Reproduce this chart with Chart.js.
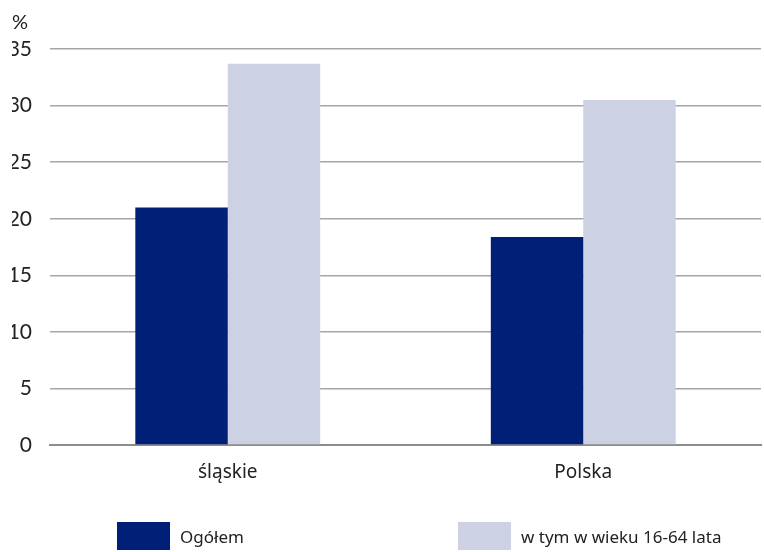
<!DOCTYPE html>
<html>
<head>
<meta charset="utf-8">
<script src="https://cdn.jsdelivr.net/npm/chart.js@4"></script>
<style>
  html, body { margin: 0; background: #fff; overflow: hidden; }
  #wrap { position: relative; width: 764px; height: 552px; }
  #chart { display: block; }
  .leg { position: absolute; top: 522px; display: flex; align-items: center; font-family: "Noto Sans", sans-serif; font-size: 17px; color: #222; }
  .leg span.box { display: inline-block; width: 53px; height: 28px; margin-right: 10px; }
</style>
</head>
<body>
<div id="wrap">
  <canvas id="chart" width="764" height="552"></canvas>
  <div id="legend"></div>
</div>
<script>
// data
const categories = ['śląskie', 'Polska'];
const seriesNames = ['Ogółem', 'w tym w wieku 16-64 lata'];
const totalValues = [21.0, 18.4];
const ageValues = [33.7, 30.5];
const seriesColors = ['#001f77', '#ccd2e4'];

let ctx = document.getElementById('chart').getContext('2d');
let chart = new Chart(ctx, {
    type: 'bar',
    data: {
        labels: categories,
        datasets: [
            {
                label: seriesNames[0],
                data: totalValues,
                backgroundColor: seriesColors[0],
            },
            {
                label: seriesNames[1],
                data: ageValues,
                backgroundColor: seriesColors[1],
            },
        ],
    },
    options: {
        responsive: false,
        animation: false,
        layout: {
            padding: { left: 12, right: 3, top: 11, bottom: 60 },
        },
        datasets: {
            bar: {
                categoryPercentage: 0.52,
                barPercentage: 1.0,
            },
        },
        plugins: {
            legend: { display: false },
            tooltip: { enabled: false },
            title: {
                display: true,
                text: '%',
                align: 'start',
                color: '#222',
                font: { family: 'Lato', size: 20, weight: 'normal' },
                padding: { top: 0, bottom: 14 },
            },
        },
        scales: {
            x: {
                grid: { display: false },
                border: { display: true, color: '#8c8c8c', width: 2 },
                ticks: {
                    color: '#222',
                    padding: 8,
                    font: { family: 'Noto Sans', size: 19 },
                },
            },
            y: {
                min: 0,
                max: 35,
                border: { display: false },
                afterFit: (scale) => { scale.width = 38; },
                grid: {
                    drawTicks: false,
                    color: (c) => (c.index === 0 ? '#8c8c8c' : '#a6a6a6'),
                    lineWidth: (c) => (c.index === 0 ? 2 : 1.5),
                },
                ticks: {
                    stepSize: 5,
                    color: '#222',
                    padding: 18,
                    font: { family: 'Lato', size: 21 },
                },
            },
        },
    },
});

// legend below the chart, built from the datasets
const legendLeft = [117, 458];
let legend = document.getElementById('legend');
chart.data.datasets.forEach((ds, i) => {
    let item = document.createElement('div');
    item.className = 'leg';
    item.style.left = legendLeft[i] + 'px';
    item.innerHTML = '<span class="box" style="background:' + ds.backgroundColor + '"></span>' + ds.label;
    legend.appendChild(item);
});
</script>
</body>
</html>
